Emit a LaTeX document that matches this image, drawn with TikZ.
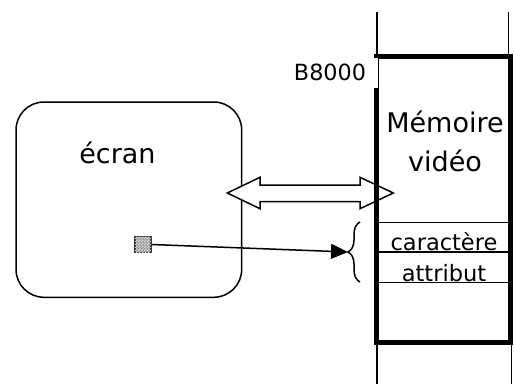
\documentclass[tikz,border=0pt]{standalone}
\usepackage{fontspec}
\setmainfont{DejaVu Sans}
\usetikzlibrary{arrows.meta,decorations.pathreplacing,patterns}
\pgfdeclarepatternformonly{finecheck}{\pgfpointorigin}{\pgfqpoint{3pt}{3pt}}{\pgfqpoint{3pt}{3pt}}{%
  \pgfpathrectangle{\pgfpointorigin}{\pgfqpoint{1.5pt}{1.5pt}}%
  \pgfpathrectangle{\pgfqpoint{1.5pt}{1.5pt}}{\pgfqpoint{1.5pt}{1.5pt}}%
  \pgfusepath{fill}}
\begin{document}
\begin{tikzpicture}[x=1pt,y=-1pt,
  thinln/.style={line width=1.5pt,line cap=rect},
  thickln/.style={line width=5pt},
  bigtxt/.style={inner sep=0,anchor=base,font=\fontsize{27}{32}\selectfont},
  smalltxt/.style={inner sep=0,anchor=base,font=\fontsize{22.5}{27}\selectfont}]
\useasboundingbox (0,0) rectangle (514,383);
% screen
\node[draw,line width=1.5pt,rounded corners=28pt,minimum width=225.7pt,minimum height=195.3pt,inner sep=0] (screen) at (128.85,199.65) {};
\node[bigtxt] (ecran) at (117.5,163.3) {écran};
% double arrow between screen and memory
\draw[line width=1.5pt,fill=white,line join=miter]
  (227.3,193) -- (260,177.3) -- (260,185) -- (360,185) -- (360,177.3) -- (393.3,193)
  -- (360,208.7) -- (360,201.5) -- (260,201.5) -- (260,208.7) -- cycle;
% memory column
\coordinate (tl) at (377,12.5);
\coordinate (tr) at (508.5,12.5);
\coordinate (bl) at (377,383);
\coordinate (br) at (511.5,383);
\draw[thinln] (tl) -- (377,56);
\draw[thinln] (tr) -- (508.5,56);
\draw[thinln] (bl) -- (377,342);
\draw[thinln] (br) -- (511.5,342);
\draw[thickln,line join=miter] (376.5,56) rectangle (510.5,342.5);
\draw[line width=1.4pt] (378,222.3) -- (509,222.3);
\draw[line width=1.4pt] (378,251.8) -- (509,251.8);
\draw[line width=1.4pt] (378,282.7) -- (509,282.7);
% address label
\node[fill=white,inner xsep=11.5pt,inner ysep=0,minimum height=30pt,font=\fontsize{22.3}{26}\selectfont] (addr) at (330,72.5) {B8000};
\node[bigtxt] (mem1) at (445,132.7) {Mémoire};
\node[bigtxt] (mem2) at (445,171.7) {vidéo};
\node[smalltxt] (car) at (444,250) {caractère};
\node[smalltxt] (att) at (444,281) {attribut};
% brace
\coordinate (b1) at (360,282);
\coordinate (b2) at (360,222);
\coordinate (bt) at (348,252);
\draw[line width=1.5pt,decorate,decoration={brace,amplitude=12pt}] (b1) -- (b2);
% pixel
\node[draw=black!80,line width=1.6pt,minimum size=16pt,inner sep=0,fill=gray!75,
  postaction={pattern=finecheck,pattern color=gray!30}] (pix) at (143,244.5) {};
\draw[line width=1.5pt,-{Triangle[length=17pt,width=15pt]}] (pix.east) -- (bt);
\end{tikzpicture}
\end{document}
